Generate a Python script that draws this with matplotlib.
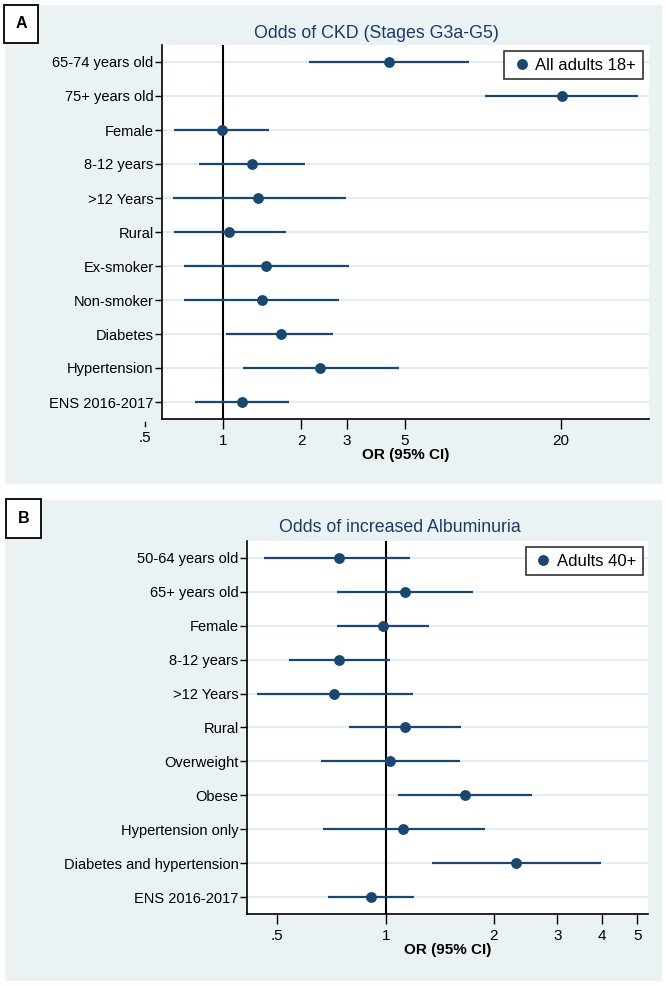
import matplotlib
matplotlib.use("Agg")
import matplotlib.pyplot as plt
from matplotlib.patches import Rectangle
from matplotlib.lines import Line2D
from matplotlib.ticker import FixedLocator, NullLocator

plt.rcParams['font.family'] = ['Liberation Sans', 'DejaVu Sans']

# panel A: odds of CKD
labels_a = ["65-74 years old", "75+ years old", "Female", "8-12 years", ">12 Years",
            "Rural", "Ex-smoker", "Non-smoker", "Diabetes", "Hypertension", "ENS 2016-2017"]
or_a = [4.36, 20.2, 0.99, 1.29, 1.37, 1.06, 1.47, 1.41, 1.67, 2.37, 1.18]
lo_a = [2.15, 10.2, 0.65, 0.81, 0.64, 0.65, 0.71, 0.71, 1.03, 1.19, 0.78]
hi_a = [8.88, 39.7, 1.51, 2.07, 2.97, 1.75, 3.06, 2.79, 2.66, 4.75, 1.79]
ticks_a = [1, 2, 3, 5, 20]
ticklabels_a = ["1", "2", "3", "5", "20"]

# panel B: odds of albuminuria
labels_b = ["50-64 years old", "65+ years old", "Female", "8-12 years", ">12 Years", "Rural",
            "Overweight", "Obese", "Hypertension only", "Diabetes and hypertension", "ENS 2016-2017"]
or_b = [0.74, 1.13, 0.98, 0.74, 0.72, 1.13, 1.03, 1.665, 1.12, 2.30, 0.91]
lo_b = [0.459, 0.73, 0.73, 0.539, 0.44, 0.791, 0.66, 1.08, 0.67, 1.342, 0.69]
hi_b = [1.171, 1.745, 1.323, 1.03, 1.191, 1.623, 1.613, 2.55, 1.89, 3.98, 1.199]
ticks_b = [0.5, 1, 2, 3, 4, 5]
ticklabels_b = [".5", "1", "2", "3", "4", "5"]

W, H = 666, 986
BG = "#eaf2f3"
NAVY = "#1a476f"
TITLE = "#1c3a66"
FS = 10.5

fig = plt.figure(figsize=(W / 100, H / 100), dpi=100)


def box(x0, y0, x1, y1):
    return [x0 / W, 1 - y1 / H, (x1 - x0) / W, (y1 - y0) / H]


def panel_bg(x0, y0, x1, y1):
    b = box(x0, y0, x1, y1)
    fig.patches.append(Rectangle((b[0], b[1]), b[2], b[3], transform=fig.transFigure,
                                 facecolor=BG, edgecolor="none", zorder=-5))


def letter_box(x0, y0, x1, y1, letter):
    b = box(x0, y0, x1, y1)
    fig.patches.append(Rectangle((b[0], b[1]), b[2], b[3], transform=fig.transFigure,
                                 facecolor="white", edgecolor="black", linewidth=1.3, zorder=2))
    fig.text(b[0] + b[2] / 2, b[1] + b[3] / 2, letter, ha="center", va="center",
             fontsize=11.5, fontweight="bold", zorder=3)


def forest(ax, labels, ors, lo, hi, xlim, ticks, ticklabels, legend_label):
    n = len(labels)
    ys = list(range(n))
    ax.set_xscale("log")
    ax.set_xlim(*xlim)
    ax.set_ylim(n - 0.5, -0.5)
    for y in ys:
        ax.axhline(y, color="#e3ecee", lw=1.4, zorder=0)
    ax.axvline(1, color="black", lw=1.5, zorder=1)
    ax.hlines(ys, lo, hi, color=NAVY, lw=1.6, zorder=2)
    ax.plot(ors, ys, "o", color=NAVY, ms=6.8, zorder=3, label=legend_label)
    ax.set_yticks(ys)
    ax.set_yticklabels(labels, fontsize=FS)
    ax.xaxis.set_major_locator(FixedLocator(ticks))
    ax.xaxis.set_minor_locator(NullLocator())
    ax.set_xticklabels(ticklabels, fontsize=FS + 0.5)
    ax.tick_params(axis="y", length=5, width=1, pad=1)
    ax.tick_params(axis="x", length=7, width=1, pad=4)
    for s in ["top", "right"]:
        ax.spines[s].set_visible(False)
    for s in ["left", "bottom"]:
        ax.spines[s].set_linewidth(1.2)
    ax.set_xlabel("OR (95% CI)", fontsize=FS + 0.5, fontweight="bold", labelpad=0)
    leg = ax.legend(loc="upper right", bbox_to_anchor=(0.987, 0.984), fontsize=12,
                    frameon=True, fancybox=False, borderpad=0.4, handletextpad=0.15,
                    handlelength=1.3, borderaxespad=0)
    leg.get_frame().set_edgecolor("black")
    leg.get_frame().set_linewidth(1.2)


# panel A
panel_bg(5, 5, 662, 484)
letter_box(4, 5, 38, 43, "A")
fig.text(376 / W, 1 - 33 / H, "Odds of CKD (Stages G3a-G5)", ha="center", va="center",
         fontsize=12.8, color=TITLE)
ax_a = fig.add_axes(box(162, 45, 649, 419))
forest(ax_a, labels_a, or_a, lo_a, hi_a, (0.583, 43.6), ticks_a, ticklabels_a, "All adults 18+")
# the .5 tick sits outside the plot region
trans = ax_a.get_xaxis_transform()
ax_a.add_line(Line2D([0.5, 0.5], [-0.007, -0.019], transform=trans, color="black", lw=1,
                     clip_on=False))
ax_a.text(0.5, -0.052, ".5", transform=trans, ha="center", va="center", fontsize=FS + 0.5,
          clip_on=False)

# panel B
panel_bg(5, 500, 662, 981)
letter_box(6, 499, 41, 538, "B")
fig.text(400 / W, 1 - 528 / H, "Odds of increased Albuminuria", ha="center", va="center",
         fontsize=12.8, color=TITLE)
ax_b = fig.add_axes(box(247, 541, 648, 914))
forest(ax_b, labels_b, or_b, lo_b, hi_b, (0.4115, 5.36), ticks_b, ticklabels_b, "Adults 40+")

fig.savefig("out.png", dpi=100)
